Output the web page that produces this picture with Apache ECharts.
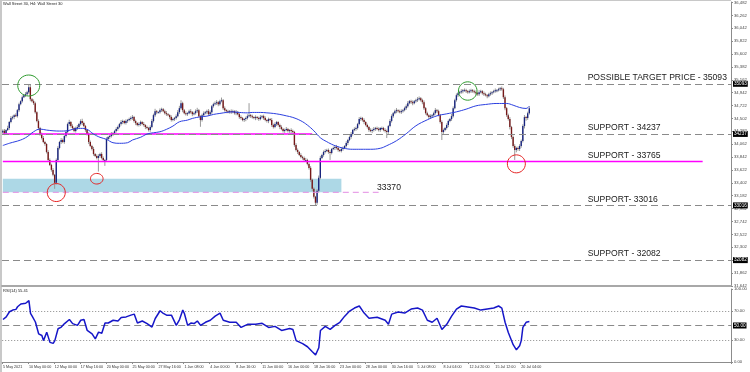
<!DOCTYPE html>
<html><head><meta charset="utf-8">
<script src="https://cdn.jsdelivr.net/npm/echarts@6/dist/echarts.min.js"></script>
<style>html,body{margin:0;padding:0;background:#fff}#c{width:750px;height:372px}</style>
</head><body><div id="c"></div>
<script>
// ---------- data ----------
const xLabels = ["5 May 2021","10 May 00:00","12 May 00:00","17 May 16:00","20 May 00:00","25 May 00:00","27 May 16:00","1 Jun 08:00","4 Jun 00:00","8 Jun 16:00","11 Jun 00:00","16 Jun 00:00","18 Jun 16:00","23 Jun 00:00","28 Jun 00:00","30 Jun 16:00","5 Jul 08:00","8 Jul 04:00","12 Jul 20:00","15 Jul 12:00","20 Jul 04:00"];
const firstOpen = 34260;
const closes = [
34291,34252,34303,34337,34439,34507,34524,34558,34541,34643,
34745,34796,34864,34898,34915,34949,35034,34830,34796,34762,
34609,34456,34337,34235,34167,34099,34065,33929,33793,33708,
33623,33538,33402,33793,33997,34099,34133,34099,34201,34269,
34405,34439,34371,34337,34286,34337,34354,34405,34456,34422,
34371,34303,34235,34099,34031,33980,33895,33861,33827,33861,
33895,33827,33793,33793,34150,34184,34201,34235,34252,34286,
34320,34354,34405,34439,34456,34422,34456,34473,34490,34507,
34524,34456,34422,34388,34405,34439,34405,34388,34354,34337,
34303,34354,34456,34558,34626,34609,34609,34643,34660,34626,
34592,34575,34558,34524,34473,34490,34507,34541,34609,34677,
34762,34643,34592,34575,34592,34626,34609,34575,34592,34626,
34643,34541,34473,34558,34592,34609,34626,34575,34609,34711,
34745,34762,34779,34745,34796,34813,34677,34643,34626,34609,
34626,34609,34626,34592,34609,34575,34524,34507,34473,34490,
34507,34541,34558,34541,34524,34507,34524,34507,34490,34524,
34541,34507,34473,34456,34490,34473,34388,34354,34405,34439,
34388,34354,34320,34286,34303,34320,34286,34303,34286,34269,
34048,33963,33929,33878,33844,33827,33793,33793,33725,33657,
33453,33300,33164,33062,33266,33487,33827,33878,33929,33946,
33963,33929,33912,33980,33997,34014,33997,33963,33946,33980,
33997,34031,34082,34133,34184,34235,34303,34320,34337,34405,
34490,34507,34473,34439,34388,34354,34303,34286,34303,34320,
34337,34320,34303,34337,34337,34303,34286,34269,34371,34456,
34541,34592,34626,34643,34626,34609,34626,34643,34677,34711,
34762,34796,34779,34762,34796,34813,34830,34847,34813,34779,
34677,34592,34558,34524,34541,34558,34592,34643,34626,34558,
34439,34269,34303,34337,34388,34456,34490,34541,34677,34813,
34898,34932,34949,34966,34983,34983,34966,34949,34966,34983,
34966,34949,34932,34915,34949,34966,34932,34915,34898,34881,
34915,34932,34949,34966,34983,34983,35000,35017,35000,34864,
34677,34558,34490,34354,34184,34031,33963,33997,33980,34031,
34116,34371,34524,34507,34592,34677];
const wickUp = [
25,30,15,40,20,35,25,15,30,20, 25,15,30,20,35,25,51,40,20,30, 25,15,30,20,25,35,20,15,30,25,
20,30,15,25,30,20,35,25,15,30, 25,40,20,30,15,25,35,20,30,40, 25,20,15,30,25,20,35,15,25,30,
20,30,25,15,30,20,25,35,15,20, 30,25,20,35,25,15,30,20,25,30, 35,20,25,15,30,25,20,35,15,25,
20,30,35,25,40,20,15,30,25,20, 25,35,20,15,30,25,20,30,35,40, 50,25,20,30,15,25,35,20,25,30,
40,20,15,25,30,20,25,35,30,20, 25,30,35,20,25,45,20,30,15,25, 20,30,25,15,35,20,25,30,20,15,
25,30,204,20,25,15,30,20,25,35, 20,25,30,15,25,20,35,25,30,20, 15,25,30,20,25,35,20,15,30,25,
20,30,25,15,30,20,25,35,20,25, 30,20,25,15,30,40,35,20,25,30, 20,25,30,15,25,20,35,25,20,30,
25,15,30,20,25,35,20,30,25,20, 35,25,20,30,15,25,20,30,25,35, 20,25,30,15,25,20,30,25,20,35,
30,20,25,35,15,25,30,20,25,30, 35,20,25,30,20,25,35,30,20,25, 30,20,25,15,30,20,25,35,20,25,
20,30,25,20,30,25,20,35,30,25, 30,20,25,35,20,30,25,20,30,25, 20,25,30,20,35,25,20,30,25,20,
25,30,20,25,30,20,25,22,30,25, 30,20,25,35,20,25,30,20,25,30, 25,30,35,20,25,30];
const wickDn = [
20,35,25,15,30,20,25,35,15,25, 30,20,25,15,30,20,25,35,20,30, 25,20,35,30,25,20,30,25,35,20,
30,25,102,30,20,25,35,20,30,25, 20,30,25,35,20,25,30,20,25,35, 20,30,25,35,20,25,30,20,25,233,
30,25,20,102,25,20,30,25,35,20, 25,30,20,25,35,20,25,30,20,25, 30,25,35,20,25,30,20,25,35,20,
25,30,20,25,30,35,20,25,30,20, 25,30,20,35,25,20,30,25,20,30, 25,35,20,25,30,20,25,35,20,25,
30,20,114,25,30,20,35,25,20,30, 25,20,30,35,25,20,30,25,35,20, 25,30,20,25,35,20,30,25,20,30,
35,25,20,30,25,20,35,25,30,20, 25,30,20,25,35,20,30,25,20,30, 25,35,20,25,30,20,25,30,35,20,
30,25,35,20,25,30,20,35,25,30, 35,40,30,42,35,30,25,20,30,25, 20,30,119,25,20,35,25,30,20,25,
30,20,25,35,20,30,25,20,30,25, 20,30,25,35,20,25,30,20,35,25, 30,20,25,30,35,20,25,102,30,20,
25,30,20,35,25,20,30,25,20,30, 25,20,30,35,20,25,30,20,25,35, 30,25,20,35,25,30,20,25,30,20,
25,136,30,20,25,35,20,30,25,20, 25,30,20,25,35,20,30,25,20,30, 25,20,35,25,30,20,25,30,20,35,
20,25,30,20,25,35,20,30,25,30, 35,30,25,40,35,30,170,40,30,35, 30,25,40,45,30,25];
const maPoints = [[0,34039],[4,34077],[11,34133],[15,34189],[19,34274],[23,34320],[27,34303],[31,34291],[35,34286],[40,34291],[43,34315],[48,34332],[52,34315],[56,34235],[60,34179],[64,34145],[68,34087],[72,34077],[77,34087],[80,34133],[85,34179],[89,34235],[93,34257],[97,34274],[101,34315],[105,34371],[109,34444],[114,34473],[117,34502],[122,34529],[126,34541],[130,34570],[134,34587],[138,34604],[142,34614],[146,34604],[151,34597],[154,34604],[159,34604],[163,34597],[167,34587],[171,34570],[175,34546],[179,34519],[184,34461],[188,34388],[192,34291],[196,34172],[200,34104],[204,34048],[208,34009],[213,33980],[216,33975],[221,33975],[227,33975],[233,33992],[237,34036],[243,34121],[249,34240],[255,34376],[262,34478],[268,34546],[274,34580],[280,34614],[286,34660],[292,34716],[298,34740],[305,34757],[311,34757],[315,34728],[319,34689],[323,34672],[325,34711]];
const rsiPoints = [[0,58.2],[1,59.6],[2,61.8],[4,68.8],[6,71.1],[8,72.1],[9,75.7],[11,79.5],[14,80.5],[16,84.1],[17,66.5],[18,62.8],[20,54.8],[22,38.6],[24,36.3],[25,29.3],[27,40.9],[29,26.9],[31,25.5],[32,29.3],[34,45.6],[36,47.8],[38,52.6],[41,58.2],[43,52.6],[46,50.2],[48,57.2],[50,58.2],[52,43.2],[55,38.6],[57,31.7],[59,40.9],[61,39.5],[63,53.4],[65,53.4],[68,57.2],[71,56.2],[73,61],[76,61.8],[79,64.2],[81,65.6],[83,53.4],[86,56.2],[89,52.6],[92,47.8],[94,59.6],[97,70.2],[99,66.5],[101,64.2],[104,64.2],[107,50.2],[109,58.2],[111,71.1],[112,66.5],[114,50.2],[116,53.4],[118,52.6],[120,56.2],[122,50.2],[125,54.4],[128,57.2],[131,62.8],[134,67],[136,57.2],[140,54.4],[144,54.4],[147,47.4],[151,51.6],[156,51.6],[160,53],[164,47.4],[168,48.8],[172,43.2],[177,46],[179,44.6],[181,29.3],[185,25.1],[188,20.9],[191,14],[193,9.8],[195,19.5],[196,43.2],[199,48.8],[202,44.6],[205,50.2],[208,54.4],[211,62.8],[214,69.8],[217,73.9],[220,76.7],[223,67],[226,60],[231,61.4],[236,57.2],[238,51.6],[240,65.6],[244,68.4],[248,67],[252,72.5],[256,73.9],[259,71.1],[262,57.2],[265,54.4],[268,60],[271,44.6],[274,51.6],[277,62.8],[280,72.5],[283,76.7],[287,75.3],[291,73.9],[295,71.1],[299,72.5],[303,73.9],[306,76.7],[308,73.9],[310,54.4],[312,40.5],[315,23.7],[317,16.7],[319,22.3],[320,29.3],[321,47.4],[323,54.4],[325,55.4]];
const priceTicks = [36482,36262,36042,35822,35602,35382,35162,34942,34722,34502,34282,34062,33842,33622,33402,33182,32962,32742,32522,32302,32082,31862,31642];
const rsiTicks = [100,70,30,0];
const dashedLevels = [35093,34237,33016,32082];
const magentaLevels = [34237,33765];
const zoneTop = 33472, zoneBottom = 33240, zoneLabel = '33370';
const rsiLast = '55.41';
const chartTitle = 'Wall Street 30, H4: Wall Street 30';
const notes = [['POSSIBLE TARGET PRICE - 35093',35093],['SUPPORT - 34237',34237],['SUPPORT - 33765',33765],['SUPPORT- 33016',33016],['SUPPORT - 32082',32082]];

// ---------- layout ----------
const N_SLOTS = 450, LABEL_STEP = 16;
const categories = Array.from({length:N_SLOTS},(_,i)=>String(i));
const FONT = 'Liberation Sans';
const SMALL = 4.2;
const candles = closes.map((c,i)=>{
  const o = i===0 ? firstOpen : closes[i-1];
  return [i, o, c, Math.min(o,c)-wickDn[i], Math.max(o,c)+wickUp[i]];
});
const isLabelIdx = (idx)=> idx % LABEL_STEP === 0 && idx/LABEL_STEP < xLabels.length;

function renderCandle(params, api){
  const i=api.value(0), o=api.value(1), c=api.value(2), l=api.value(3), h=api.value(4);
  const pO=api.coord([i,o]), pC=api.coord([i,c]), pL=api.coord([i,l]), pH=api.coord([i,h]);
  const bw=api.size([1,0])[0];
  const w=Math.max(1,bw*0.85);
  const x=pO[0];
  const top=Math.min(pO[1],pC[1]), hgt=Math.max(1,Math.abs(pO[1]-pC[1]));
  return {type:'group',children:[
    {type:'line',shape:{x1:x,y1:pH[1],x2:x,y2:pL[1]},style:{stroke:'#999999',lineWidth:1}},
    {type:'rect',shape:{x:x-w/2,y:top,width:w,height:hgt},style:{fill:c>=o?'#18247f':'#761818'}}
  ]};
}

const endLabel = {show:true,position:'end',distance:2,color:'#fff',backgroundColor:'#000',fontSize:4.6,fontFamily:FONT,padding:[1,1,0,1],formatter:p=>String(p.value)};
// segment helper: a plain line series between two data points
const segSeries = (x0,x1,v,color,type,w,z)=>({type:'line',xAxisIndex:0,yAxisIndex:0,data:[[x0,v],[x1,v]],symbol:'none',silent:true,z:z,
  lineStyle:{color:color,type:type,width:w},itemStyle:{color:color},emphasis:{disabled:true}});

const chart = echarts.init(document.getElementById('c'),null,{renderer:'canvas'});
const option = {
  animation:false,
  backgroundColor:'#fff',
  grid:[{left:2,right:19,top:2,height:284},{left:2,right:19,top:289,height:73}],
  xAxis:[
    {gridIndex:0,type:'category',data:categories,boundaryGap:true,axisLabel:{show:false},axisTick:{show:false},axisLine:{show:true,lineStyle:{color:'#a8a8a8',width:2}},splitLine:{show:false}},
    {gridIndex:1,type:'category',data:categories,boundaryGap:true,
     axisLine:{show:true,lineStyle:{color:'#8c8c8c'}},
     axisTick:{show:true,length:2,interval:(idx)=>isLabelIdx(idx),lineStyle:{color:'#8c8c8c'}},
     axisLabel:{show:true,showMinLabel:true,interval:(idx)=>isLabelIdx(idx),formatter:(v)=>xLabels[Number(v)/LABEL_STEP]||'',align:'left',fontSize:3.7,fontFamily:FONT,color:'#333',margin:3},
     splitLine:{show:false}}
  ],
  yAxis:[
    {gridIndex:0,type:'value',position:'right',min:31640,max:36490,splitLine:{show:false},
     axisLine:{show:true,lineStyle:{color:'#8c8c8c'}},
     axisTick:{show:true,length:2,customValues:priceTicks,lineStyle:{color:'#8c8c8c'}},
     axisLabel:{customValues:priceTicks,fontSize:SMALL,fontFamily:FONT,color:'#444',margin:3}},
    {gridIndex:1,type:'value',position:'right',min:0,max:100,splitLine:{show:false},
     axisLine:{show:true,lineStyle:{color:'#8c8c8c'}},
     axisTick:{show:true,length:2,customValues:rsiTicks,lineStyle:{color:'#8c8c8c'}},
     axisLabel:{customValues:rsiTicks,formatter:v=>Number(v).toFixed(2),fontSize:SMALL,fontFamily:FONT,color:'#444',margin:3}}
  ],
  series:[
    // light-blue zone (below candles) and grey dashed levels
    {type:'line',name:'zone',xAxisIndex:0,yAxisIndex:0,data:[],symbol:'none',z:1,silent:true,
     markArea:{silent:true,itemStyle:{color:'#add8e6',opacity:1},data:[[{coord:[0,zoneTop]},{coord:[209,zoneBottom]}]]},
     markLine:{silent:true,symbol:['none','none'],animation:false,
       data:dashedLevels.map(v=>({yAxis:v,lineStyle:{color:'#8a8a8a',type:[7,4],width:1},label:endLabel}))}},
    {type:'custom',name:'candles',xAxisIndex:0,yAxisIndex:0,renderItem:renderCandle,data:candles,encode:{x:0,y:[1,2,3,4]},z:3,clip:true},
    segSeries(0,191,magentaLevels[0],'#ff00ff','solid',1.4,4),
    segSeries(0,432,magentaLevels[1],'#ff00ff','solid',1.4,4),
    segSeries(0,232,zoneBottom,'#e38be3',[6,4],1,4),
    {type:'line',name:'MA',xAxisIndex:0,yAxisIndex:0,data:maPoints,smooth:0.4,symbol:'none',lineStyle:{color:'#2b3fe0',width:1},z:5},
    {type:'line',name:'RSI',xAxisIndex:1,yAxisIndex:1,data:rsiPoints,symbol:'none',lineStyle:{color:'#1616c8',width:1.5},z:5,
     markLine:{silent:true,symbol:['none','none'],animation:false,
       data:[
         {yAxis:70,lineStyle:{color:'#8a8a8a',type:[1,2],width:1},label:{show:false}},
         {yAxis:30,lineStyle:{color:'#8a8a8a',type:[1,2],width:1},label:{show:false}},
         {yAxis:50,lineStyle:{color:'#8a8a8a',type:[7,4],width:1},label:Object.assign({},endLabel,{formatter:()=>'50.00'})}
       ]}}
  ]
};
chart.setOption(option);

// annotations anchored to data coordinates
const px=(idx,v)=>chart.convertToPixel({gridIndex:0},[idx,v]);
const ellipses=[[16,35064,11,10.5,'#2e9b2e'],[287,34970,9.3,9.2,'#2e9b2e'],[33,33236,9,9,'#e52222'],[58,33472,6.3,5.3,'#e52222'],[317,33726,9,9,'#e52222']];
const graphics=[
  {type:'rect',shape:{x:0,y:0,width:2,height:372},style:{fill:'#c8c8c8'},silent:true},
  {type:'rect',shape:{x:0,y:0,width:731,height:1},style:{fill:'#c8c8c8'},silent:true},
  {type:'text',left:3,top:2,style:{text:chartTitle,fontSize:4,fontFamily:FONT,fill:'#222'}},
  {type:'text',left:3,top:289,style:{text:'RSI(14) '+rsiLast,fontSize:4,fontFamily:FONT,fill:'#222'}}
];
ellipses.forEach(([i,v,rx,ry,col])=>{
  const p=px(i,v);
  graphics.push({type:'ellipse',shape:{cx:p[0],cy:p[1],rx:rx,ry:ry},style:{fill:'none',stroke:col,lineWidth:1},z:10,silent:true});
});
notes.forEach(([t,v])=>{
  const p=px(361,v);
  graphics.push({type:'text',x:p[0],y:p[1]-1.5,style:{text:t,fontSize:8.6,fontFamily:FONT,fill:'#1a1a1a',verticalAlign:'bottom',align:'left'},z:10,silent:true});
});
{
  const p=px(231,33325);
  graphics.push({type:'text',x:p[0],y:p[1],style:{text:zoneLabel,fontSize:8.6,fontFamily:FONT,fill:'#1a1a1a',verticalAlign:'middle',align:'left'},z:10,silent:true});
}
chart.setOption({graphic:graphics});
</script></body></html>
